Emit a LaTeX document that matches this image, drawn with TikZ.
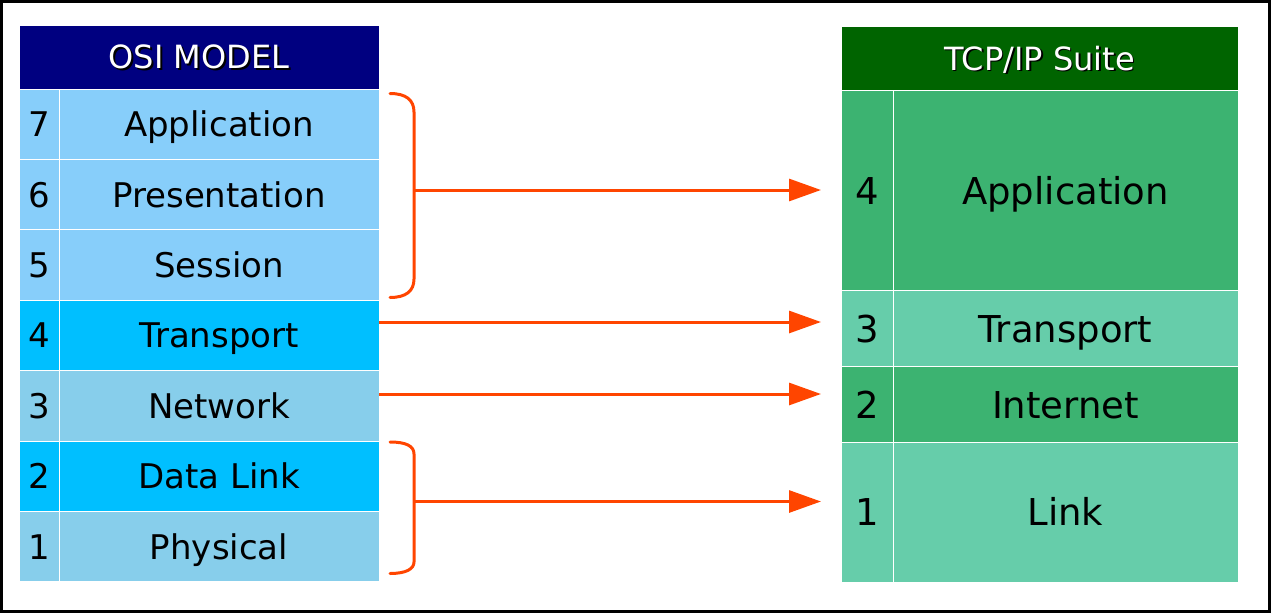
\documentclass[tikz,border=0pt]{standalone}
\usepackage{fontspec}
\setmainfont{DejaVu Sans}
\usetikzlibrary{arrows.meta}
\definecolor{osihead}{HTML}{000080}
\definecolor{osiupper}{HTML}{87CEFA}
\definecolor{osideep}{HTML}{00BFFF}
\definecolor{osisky}{HTML}{87CEEB}
\definecolor{tcphead}{HTML}{006400}
\definecolor{tcpgreen}{HTML}{3CB371}
\definecolor{tcpaqua}{HTML}{66CDAA}
\definecolor{mapline}{HTML}{FF4500}
\begin{document}
\begin{tikzpicture}[x=1pt,y=-1pt,
  cell/.style={draw=white,line width=1pt,inner sep=0pt,outer sep=0pt,anchor=north west},
  ositxt/.style={inner sep=0pt,text height=25pt,text depth=0pt,font=\fontsize{34}{40}\selectfont},
  tcptxt/.style={inner sep=0pt,text height=27pt,text depth=0pt,font=\fontsize{37}{44}\selectfont},
  headtxt/.style={inner sep=0pt,text height=23pt,text depth=0pt,font=\fontsize{32}{38}\selectfont,text=white},
  headshadow/.style={headtxt,text=black},
  divider/.style={draw=white,line width=1pt},
  maparrow/.style={draw=mapline,line width=3pt,-{Triangle[length=32pt,width=22pt]}},
  bracket/.style={draw=mapline,line width=3pt,line cap=round}]
\useasboundingbox (0,0) rectangle (1271,613);
% outer frame
\draw[line width=3pt] (1.5,1.5) rectangle (1269.5,611.5);

% ---------- OSI model ----------
\node[cell,fill=osihead,minimum width=360pt,minimum height=64pt] (osihead) at (19,25) {};
\node[headshadow] (osititleshadow) at ([shift={(1.8,1.8)}]osihead.center) {OSI MODEL};
\node[headtxt] (osititle) at (osihead.center) {OSI MODEL};
\foreach \n/\t/\c [count=\i from 0] in {7/Application/osiupper,6/Presentation/osiupper,5/Session/osiupper,4/Transport/osideep,3/Network/osisky,2/Data Link/osideep,1/Physical/osisky}{
  \pgfmathsetmacro{\top}{89+\i*70.4}
  \node[cell,fill=\c,minimum width=360pt,minimum height=70.4pt] (osi\n) at (19,\top) {};
  \node[ositxt] (osinum\n) at (39,\top+35.2) {\n};
  \node[ositxt] (osilbl\n) at (219,\top+35.2) {\t};
}
\draw[divider] (59,89) -- (59,581.8);

% ---------- TCP/IP suite ----------
\node[cell,fill=tcphead,minimum width=397pt,minimum height=64pt] (tcphead) at (841,26.5) {};
\node[headshadow] (tcptitleshadow) at ([shift={(1.8,1.8)}]tcphead.center) {TCP/IP Suite};
\node[headtxt] (tcptitle) at (tcphead.center) {TCP/IP Suite};
\foreach \n/\t/\c/\top/\h in {4/Application/tcpgreen/90.5/200,3/Transport/tcpaqua/290.5/76.3,2/Internet/tcpgreen/366.8/75.9,1/Link/tcpaqua/442.7/139.3}{
  \node[cell,fill=\c,minimum width=397pt,minimum height=\h pt] (tcp\n) at (841,\top) {};
  \node[tcptxt] (tcpnum\n) at (867,\top+\h/2) {\n};
  \node[tcptxt] (tcplbl\n) at (1065.5,\top+\h/2) {\t};
}
\draw[divider] (893,90.5) -- (893,582);

% ---------- mapping ----------
% upper three layers grouped into one
\coordinate (upperjoin) at (414,190);
\coordinate (uppertip) at (821,190);
\draw[bracket] (390,93.5) .. controls (406,93.5) and (414,100) .. (414,112)
  -- (414,279) .. controls (414,291) and (406,297.5) .. (390,297.5);
\draw[maparrow] (upperjoin) -- (uppertip);
% transport and network map one to one
\coordinate (transtail) at (osi4.east |- 0,322);
\coordinate (transtip) at (821,322);
\draw[maparrow] (transtail) -- (transtip);
\coordinate (nettail) at (osi3.east |- 0,394);
\coordinate (nettip) at (821,394);
\draw[maparrow] (nettail) -- (nettip);
% data link and physical grouped into link
\coordinate (lowerjoin) at (414,501.5);
\coordinate (lowertip) at (821,501.5);
\draw[bracket] (390,442) .. controls (406,442) and (414,446) .. (414,454)
  -- (414,562) .. controls (414,569) and (406,573.5) .. (390,573.5);
\draw[maparrow] (lowerjoin) -- (lowertip);
\end{tikzpicture}
\end{document}
